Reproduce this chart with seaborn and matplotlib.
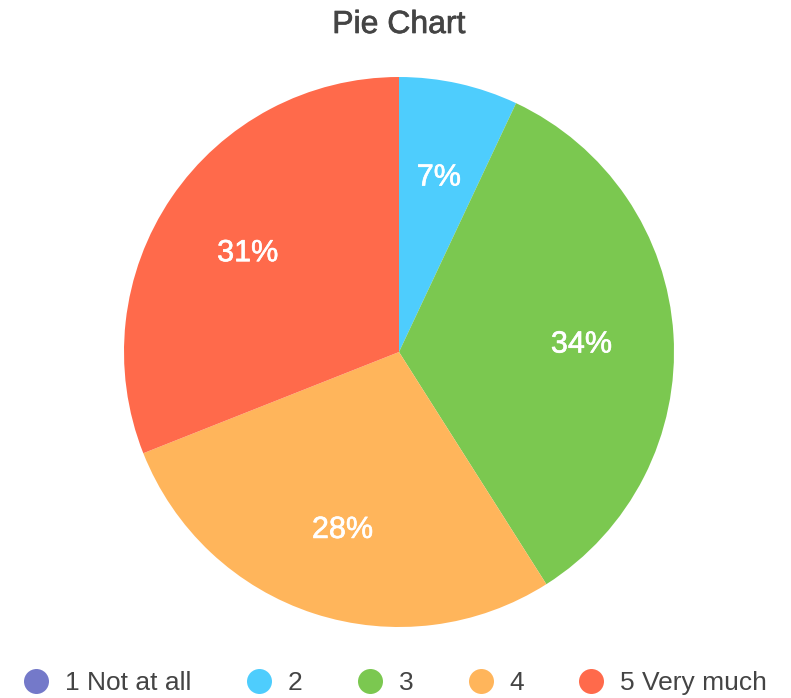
import matplotlib
matplotlib.use("Agg")
import matplotlib.pyplot as plt
import matplotlib.patheffects as pe
from matplotlib.lines import Line2D
from matplotlib.transforms import ScaledTranslation
import seaborn as sns

# Survey responses (percent of answers per rating)
categories = ["1 Not at all", "2", "3", "4", "5 Very much"]
shares = [0, 7, 34, 28, 31]
colors = ["#7479c9", "#4ecdfd", "#7bc850", "#ffb55b", "#ff6a4b"]

sns.set_theme(style="white")
plt.rcParams["font.family"] = ["Liberation Sans", "DejaVu Sans"]

W, H = 791, 698
fig = plt.figure(figsize=(W / 100, H / 100), dpi=100)
fig.patch.set_facecolor("white")

cx, cy, r = 399, 352, 275
ax = fig.add_axes([(cx - r) / W, 1 - (cy + r) / H, 2 * r / W, 2 * r / H])


def pct_label(p):
    return f"{p:.0f}%" if p >= 0.5 else ""


wedges, _, autotexts = ax.pie(
    shares,
    colors=colors,
    startangle=90,
    counterclock=False,
    autopct=pct_label,
    pctdistance=0.665,
    radius=1.0,
    wedgeprops=dict(linewidth=0),
    textprops=dict(color="white", fontsize=22),
)
# nudge the percentage labels a few pixels down and thicken them slightly
nudge = ScaledTranslation(0, -4 / 100, fig.dpi_scale_trans)
for t in autotexts:
    t.set_transform(t.get_transform() + nudge)
    t.set_path_effects([pe.withStroke(linewidth=0.45, foreground="white")])
ax.set_xlim(-1, 1)
ax.set_ylim(-1, 1)
ax.set_aspect("equal")
ax.axis("off")

title = fig.text(cx / W, 1 - 25 / H, "Pie Chart", ha="center", va="center",
                 fontsize=23, color="#444444")
title.set_path_effects([pe.withStroke(linewidth=0.5, foreground="#444444")])

handles = [
    Line2D([], [], linestyle="none", marker="o", markersize=18,
           markerfacecolor=c, markeredgewidth=0)
    for c in colors
]
fig.legend(
    handles, categories,
    loc="center", bbox_to_anchor=(395 / W, 1 - 683 / H),
    ncol=5, frameon=False, fontsize=19,
    handlelength=1.0, handletextpad=0.6, columnspacing=2.05,
    labelcolor="#444444",
)

fig.savefig("out.png", dpi=100, facecolor="white")
